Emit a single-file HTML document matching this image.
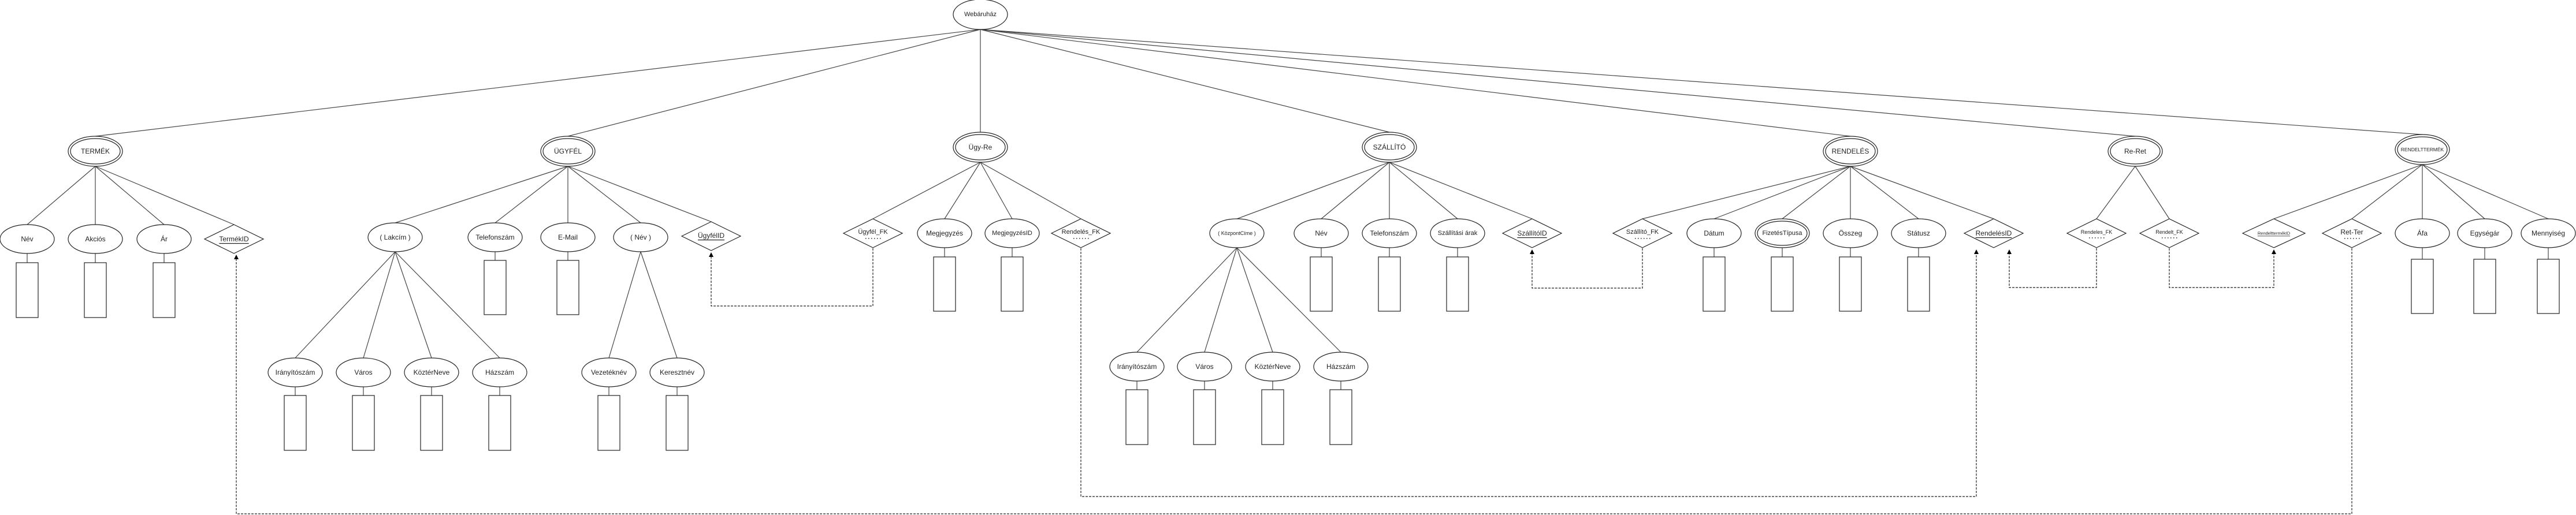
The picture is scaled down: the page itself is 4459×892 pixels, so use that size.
<!DOCTYPE html>
<html><head><meta charset="utf-8"><style>
html,body{margin:0;padding:0;background:#fff;}
svg{display:block;}
text{font-family:"Liberation Sans",sans-serif;font-size:12px;fill:#222;text-anchor:middle;dominant-baseline:central;}
.l{stroke:#444;stroke-width:1.2;fill:none;}
.s{stroke:#222;stroke-width:1.2;fill:#fff;}
.d{stroke:#222;stroke-width:1.2;fill:none;stroke-dasharray:4 2;}
.dot{stroke:#222;stroke-width:1.5;stroke-dasharray:1.5 3.5;}
</style></head><body>
<svg width="4459" height="892" viewBox="0 0 4459 892" xmlns="http://www.w3.org/2000/svg">
<defs><marker id="a" markerWidth="8" markerHeight="8" refX="4" refY="4" orient="auto" markerUnits="userSpaceOnUse"><path d="M0,0 L8,4 L0,8 z" fill="#000"/></marker></defs>

<g class="l">
<line x1="1697" y1="51" x2="165" y2="236"/>
<line x1="1697" y1="51" x2="983" y2="236"/>
<line x1="1697" y1="51" x2="1697" y2="229"/>
<line x1="1697" y1="51" x2="2405" y2="229"/>
<line x1="1697" y1="51" x2="3203" y2="236"/>
<line x1="1697" y1="51" x2="3696" y2="236"/>
<line x1="1697" y1="51" x2="4193" y2="233"/>
<line x1="165" y1="288" x2="47" y2="389"/><line x1="165" y1="288" x2="165" y2="389"/><line x1="165" y1="288" x2="284" y2="389"/><line x1="165" y1="288" x2="405" y2="389"/>
<line x1="983" y1="288" x2="684" y2="386"/><line x1="983" y1="288" x2="857" y2="386"/><line x1="983" y1="288" x2="983" y2="386"/><line x1="983" y1="288" x2="1109" y2="386"/><line x1="983" y1="288" x2="1231" y2="384"/>
<line x1="684" y1="436" x2="511" y2="620"/><line x1="684" y1="436" x2="629" y2="620"/><line x1="684" y1="436" x2="747" y2="620"/><line x1="684" y1="436" x2="865" y2="620"/>
<line x1="1109" y1="436" x2="1054" y2="620"/><line x1="1109" y1="436" x2="1172" y2="620"/>
<line x1="1697" y1="281" x2="1511" y2="379"/><line x1="1697" y1="281" x2="1635" y2="379"/><line x1="1697" y1="281" x2="1752" y2="379"/><line x1="1697" y1="281" x2="1871" y2="379"/>
<line x1="2405" y1="281" x2="2141" y2="379"/><line x1="2405" y1="281" x2="2287" y2="379"/><line x1="2405" y1="281" x2="2405" y2="379"/><line x1="2405" y1="281" x2="2523" y2="379"/><line x1="2405" y1="281" x2="2652" y2="379"/>
<line x1="2141" y1="429" x2="1968" y2="610"/><line x1="2141" y1="429" x2="2085" y2="610"/><line x1="2141" y1="429" x2="2203" y2="610"/><line x1="2141" y1="429" x2="2321" y2="610"/>
<line x1="3203" y1="288" x2="2843" y2="379"/><line x1="3203" y1="288" x2="2967" y2="379"/><line x1="3203" y1="288" x2="3085" y2="379"/><line x1="3203" y1="288" x2="3203" y2="379"/><line x1="3203" y1="288" x2="3321" y2="379"/><line x1="3203" y1="288" x2="3451" y2="379"/>
<line x1="3696" y1="288" x2="3629" y2="379"/><line x1="3696" y1="288" x2="3755" y2="379"/>
<line x1="4193" y1="285" x2="3936" y2="379"/><line x1="4193" y1="285" x2="4071" y2="379"/><line x1="4193" y1="285" x2="4193" y2="379"/><line x1="4193" y1="285" x2="4301" y2="379"/><line x1="4193" y1="285" x2="4411" y2="379"/>
</g>

<g class="l">
<line x1="47" y1="439" x2="47" y2="455"/><line x1="165" y1="439" x2="165" y2="455"/><line x1="284" y1="439" x2="284" y2="455"/>
<line x1="857" y1="436" x2="857" y2="451"/><line x1="983" y1="436" x2="983" y2="451"/>
<line x1="511" y1="670" x2="511" y2="685"/><line x1="629" y1="670" x2="629" y2="685"/><line x1="747" y1="670" x2="747" y2="685"/><line x1="865" y1="670" x2="865" y2="685"/>
<line x1="1054" y1="670" x2="1054" y2="685"/><line x1="1172" y1="670" x2="1172" y2="685"/>
<line x1="1635" y1="429" x2="1635" y2="445"/><line x1="1752" y1="429" x2="1752" y2="445"/>
<line x1="2287" y1="429" x2="2287" y2="445"/><line x1="2405" y1="429" x2="2405" y2="445"/><line x1="2523" y1="429" x2="2523" y2="445"/>
<line x1="1968" y1="660" x2="1968" y2="675"/><line x1="2085" y1="660" x2="2085" y2="675"/><line x1="2203" y1="660" x2="2203" y2="675"/><line x1="2321" y1="660" x2="2321" y2="675"/>
<line x1="2967" y1="429" x2="2967" y2="445"/><line x1="3085" y1="429" x2="3085" y2="445"/><line x1="3203" y1="429" x2="3203" y2="445"/><line x1="3321" y1="429" x2="3321" y2="445"/>
<line x1="4193" y1="429" x2="4193" y2="449"/><line x1="4301" y1="429" x2="4301" y2="449"/><line x1="4411" y1="429" x2="4411" y2="449"/>
</g>
<g class="s">
<rect x="28" y="455" width="38" height="95"/><rect x="146" y="455" width="38" height="95"/><rect x="265" y="455" width="38" height="95"/>
<rect x="838" y="451" width="38" height="94"/><rect x="964" y="451" width="38" height="94"/>
<rect x="492" y="685" width="38" height="95"/><rect x="610" y="685" width="38" height="95"/><rect x="728" y="685" width="38" height="95"/><rect x="846" y="685" width="38" height="95"/>
<rect x="1035" y="685" width="38" height="95"/><rect x="1153" y="685" width="38" height="95"/>
<rect x="1616" y="445" width="38" height="94"/><rect x="1733" y="445" width="38" height="94"/>
<rect x="2268" y="445" width="38" height="94"/><rect x="2386" y="445" width="38" height="94"/><rect x="2504" y="445" width="38" height="94"/>
<rect x="1949" y="675" width="38" height="95"/><rect x="2066" y="675" width="38" height="95"/><rect x="2184" y="675" width="38" height="95"/><rect x="2302" y="675" width="38" height="95"/>
<rect x="2948" y="445" width="38" height="94"/><rect x="3066" y="445" width="38" height="94"/><rect x="3184" y="445" width="38" height="94"/><rect x="3302" y="445" width="38" height="94"/>
<rect x="4174" y="449" width="38" height="94"/><rect x="4282" y="449" width="38" height="94"/><rect x="4392" y="449" width="38" height="94"/>
</g>

<g class="d">
<path d="M1511,430 V530 H1231 V441" marker-end="url(#a)"/>
<path d="M2843,430 V499 H2652 V436" marker-end="url(#a)"/>
<path d="M3629,430 V498 H3478 V436" marker-end="url(#a)"/>
<path d="M3755,430 V498 H3936 V436" marker-end="url(#a)"/>
<path d="M1871,430 V860 H3421 V436" marker-end="url(#a)"/>
<path d="M4071,430 V890 H409 V445" marker-end="url(#a)"/>
</g>

<ellipse class="s" cx="1697" cy="25" rx="47" ry="26"/><text x="1697" y="25" style="font-size:11px">Webáruház</text>

<g class="s">
<ellipse cx="165" cy="262" rx="47" ry="26"/><ellipse cx="165" cy="262" rx="43" ry="22"/>
<ellipse cx="983" cy="262" rx="47" ry="26"/><ellipse cx="983" cy="262" rx="43" ry="22"/>
<ellipse cx="1697" cy="255" rx="47" ry="26"/><ellipse cx="1697" cy="255" rx="43" ry="22"/>
<ellipse cx="2405" cy="255" rx="47" ry="26"/><ellipse cx="2405" cy="255" rx="43" ry="22"/>
<ellipse cx="3203" cy="262" rx="47" ry="26"/><ellipse cx="3203" cy="262" rx="43" ry="22"/>
<ellipse cx="3696" cy="262" rx="47" ry="26"/><ellipse cx="3696" cy="262" rx="43" ry="22"/>
<ellipse cx="4193" cy="259" rx="47" ry="26"/><ellipse cx="4193" cy="259" rx="43" ry="22"/>
</g>
<text x="165" y="262">TERMÉK</text><text x="983" y="262">ÜGYFÉL</text><text x="1697" y="255">Ügy-Re</text>
<text x="2405" y="255">SZÁLLÍTÓ</text><text x="3203" y="262">RENDELÉS</text><text x="3696" y="262">Re-Ret</text>
<text x="4193" y="259" style="font-size:8.5px">RENDELTTERMÉK</text>

<g class="s">
<ellipse cx="47" cy="414" rx="47" ry="25"/><ellipse cx="165" cy="414" rx="47" ry="25"/><ellipse cx="284" cy="414" rx="47" ry="25"/>
<ellipse cx="684" cy="411" rx="47" ry="25"/><ellipse cx="857" cy="411" rx="47" ry="25"/><ellipse cx="983" cy="411" rx="47" ry="25"/><ellipse cx="1109" cy="411" rx="47" ry="25"/>
<ellipse cx="511" cy="645" rx="47" ry="25"/><ellipse cx="629" cy="645" rx="47" ry="25"/><ellipse cx="747" cy="645" rx="47" ry="25"/><ellipse cx="865" cy="645" rx="47" ry="25"/>
<ellipse cx="1054" cy="645" rx="47" ry="25"/><ellipse cx="1172" cy="645" rx="47" ry="25"/>
<ellipse cx="1635" cy="404" rx="47" ry="25"/><ellipse cx="1752" cy="404" rx="47" ry="25"/>
<ellipse cx="2141" cy="404" rx="47" ry="25"/><ellipse cx="2287" cy="404" rx="47" ry="25"/><ellipse cx="2405" cy="404" rx="47" ry="25"/><ellipse cx="2523" cy="404" rx="47" ry="25"/>
<ellipse cx="1968" cy="635" rx="47" ry="25"/><ellipse cx="2085" cy="635" rx="47" ry="25"/><ellipse cx="2203" cy="635" rx="47" ry="25"/><ellipse cx="2321" cy="635" rx="47" ry="25"/>
<ellipse cx="2967" cy="404" rx="47" ry="25"/><ellipse cx="3085" cy="404" rx="47" ry="25"/><ellipse cx="3085" cy="404" rx="43" ry="21"/><ellipse cx="3203" cy="404" rx="47" ry="25"/><ellipse cx="3321" cy="404" rx="47" ry="25"/>
<ellipse cx="4193" cy="404" rx="47" ry="25"/><ellipse cx="4301" cy="404" rx="47" ry="25"/><ellipse cx="4411" cy="404" rx="47" ry="25"/>
</g>
<text x="47" y="414">Név</text><text x="165" y="414">Akciós</text><text x="284" y="414">Ár</text>
<text x="684" y="411">( Lakcím )</text><text x="857" y="411">Telefonszám</text><text x="983" y="411">E-Mail</text><text x="1109" y="411">( Név )</text>
<text x="511" y="645">Irányítószám</text><text x="629" y="645">Város</text><text x="747" y="645">KöztérNeve</text><text x="865" y="645">Házszám</text>
<text x="1054" y="645">Vezetéknév</text><text x="1172" y="645">Keresztnév</text>
<text x="1635" y="404">Megjegyzés</text><text x="1752" y="404" style="font-size:11px">MegjegyzésID</text>
<text x="2141" y="404" style="font-size:9px">( KözpontCíme )</text><text x="2287" y="404">Név</text><text x="2405" y="404">Telefonszám</text><text x="2523" y="404" style="font-size:11px">Szállítási árak</text>
<text x="1968" y="635">Irányítószám</text><text x="2085" y="635">Város</text><text x="2203" y="635">KöztérNeve</text><text x="2321" y="635">Házszám</text>
<text x="2967" y="404">Dátum</text><text x="3085" y="404" style="font-size:11px">FizetésTípusa</text><text x="3203" y="404">Összeg</text><text x="3321" y="404">Státusz</text>
<text x="4193" y="404">Áfa</text><text x="4301" y="404">Egységár</text><text x="4411" y="404">Mennyiség</text>

<g class="s">
<polygon points="354,414 405,389 456,414 405,439"/>
<polygon points="1180,409 1231,384 1282,409 1231,434"/>
<polygon points="1460,404 1511,379 1562,404 1511,429"/>
<polygon points="1820,404 1871,379 1922,404 1871,429"/>
<polygon points="2601,404 2652,379 2703,404 2652,429"/>
<polygon points="2792,404 2843,379 2894,404 2843,429"/>
<polygon points="3400,404 3451,379 3502,404 3451,429"/>
<polygon points="3578,404 3629,379 3680,404 3629,429"/>
<polygon points="3704,404 3755,379 3806,404 3755,429"/>
<polygon points="3882,404 3936,379 3990,404 3936,429"/>
<polygon points="4020,404 4071,379 4122,404 4071,429"/>
</g>
<text x="405" y="414" text-decoration="underline">TermékID</text>
<text x="1231" y="408" text-decoration="underline">ÜgyfélID</text>
<text x="1511" y="402" style="font-size:11px">Ügyfél_FK</text>
<text x="1871" y="402" style="font-size:11px">Rendelés_FK</text>
<text x="2652" y="404" text-decoration="underline">SzállítóID</text>
<text x="2843" y="402" style="font-size:11px">Szállító_FK</text>
<text x="3451" y="404" text-decoration="underline">RendelésID</text>
<text x="3629" y="402" style="font-size:9px">Rendeles_FK</text>
<text x="3755" y="402" style="font-size:9px">Rendelt_FK</text>
<text x="3936" y="404" style="font-size:7.5px" text-decoration="underline">RendelttermékID</text>
<text x="4071" y="402">Ret-Ter</text>
<g class="dot">
<line x1="1498" y1="413" x2="1526" y2="413"/>
<line x1="1858" y1="413" x2="1886" y2="413"/>
<line x1="2830" y1="413" x2="2858" y2="413"/>
<line x1="3616" y1="412" x2="3644" y2="412"/>
<line x1="3742" y1="412" x2="3770" y2="412"/>
<line x1="4058" y1="413" x2="4086" y2="413"/>
</g>
</svg>
</body></html>
